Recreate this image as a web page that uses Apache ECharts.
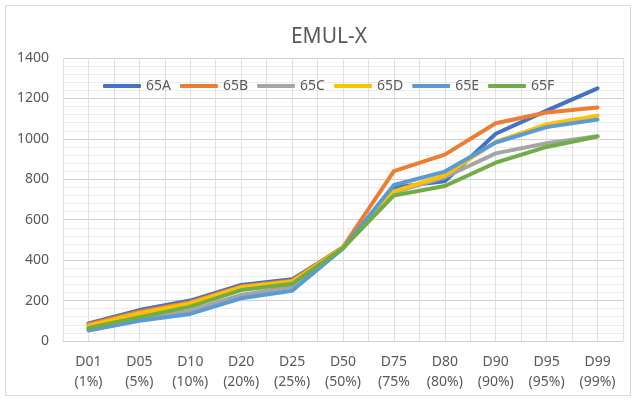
<!DOCTYPE html>
<html>
<head>
<meta charset="utf-8">
<script src="https://cdn.jsdelivr.net/npm/echarts@6/dist/echarts.min.js"></script>
<style>
html,body{margin:0;padding:0;background:#fff;}
#c{width:636px;height:401px;}
</style>
</head>
<body>
<div id="c"></div>
<script>
const categories = ['D01\n(1%)','D05\n(5%)','D10\n(10%)','D20\n(20%)','D25\n(25%)','D50\n(50%)','D75\n(75%','D80\n(80%)','D90\n(90%)','D95\n(95%)','D99\n(99%)'];
const s65A = [87, 153, 200, 277, 305, 462, 760, 790, 1025, 1140, 1250];
const s65B = [82, 145, 192, 270, 298, 465, 840, 922, 1077, 1130, 1155];
const s65C = [60, 110, 150, 228, 268, 460, 735, 810, 928, 978, 1013];
const s65D = [76, 137, 186, 266, 294, 462, 740, 820, 985, 1072, 1115];
const s65E = [52, 100, 134, 211, 249, 458, 772, 838, 982, 1058, 1096];
const s65F = [64, 118, 170, 252, 283, 460, 720, 767, 882, 960, 1012];
const seriesNames = ['65A','65B','65C','65D','65E','65F'];
const seriesData = [s65A, s65B, s65C, s65D, s65E, s65F];
const colors = ['#4472C4','#ED7D31','#A5A5A5','#FFC000','#5B9BD5','#70AD47'];

const FONT = 'Noto Sans';
const chart = echarts.init(document.getElementById('c'), null, {renderer:'canvas'});
chart.setOption({
  animation: false,
  backgroundColor: '#fff',
  color: colors,
  title: {
    text: 'EMUL-X', left: 324, top: 22, textAlign: 'center',
    textStyle: {fontFamily: FONT, fontSize: 21, fontWeight: 'normal', color: '#595959'}
  },
  graphic: [{
    type: 'rect', shape: {x: 5.5, y: 5.5, width: 625, height: 390},
    style: {fill: null, stroke: '#d9d9d9', lineWidth: 1}, silent: true, z: -10
  }],
  legend: {
    left: 98, top: 74, itemWidth: 38, itemHeight: 4, itemGap: 9,
    icon: 'roundRect',
    textStyle: {fontFamily: FONT, fontSize: 14, color: '#595959', width: 27}
  },
  grid: {left: 63, right: 13, top: 58, bottom: 60, containLabel: false},
  xAxis: [{
    type: 'category', data: categories, boundaryGap: true,
    axisLine: {show: true, lineStyle: {color: '#d0d0d0', width: 1}},
    axisTick: {show: false},
    splitLine: {show: true, lineStyle: {color: '#d0d0d0', width: 1}},
    axisLabel: {fontFamily: FONT, fontSize: 14, color: '#595959', lineHeight: 20, margin: 11, interval: 0}
  }, {
    type: 'value', min: 0, max: 22, interval: 1, show: true, position: 'top',
    axisLine: {show: false}, axisTick: {show: false}, axisLabel: {show: false},
    splitLine: {show: true, lineStyle: {color: '#e0e0e0', width: 1}}
  }],
  yAxis: {
    type: 'value', min: 0, max: 1400, interval: 200,
    axisLine: {show: false}, axisTick: {show: false},
    axisLabel: {fontFamily: FONT, fontSize: 14, color: '#595959', margin: 14, formatter: v => String(v)},
    splitLine: {show: true, lineStyle: {color: '#d0d0d0', width: 1}},
    minorTick: {show: false, splitNumber: 5},
    minorSplitLine: {show: true, lineStyle: {color: '#ececec', width: 1}}
  },
  series: seriesNames.map((n, i) => ({
    name: n, type: 'line', data: seriesData[i], xAxisIndex: 0,
    symbol: 'none', smooth: false,
    lineStyle: {width: 4, color: colors[i], cap: 'round', join: 'round'},
    itemStyle: {color: colors[i]}
  }))
});
</script>
</body>
</html>
